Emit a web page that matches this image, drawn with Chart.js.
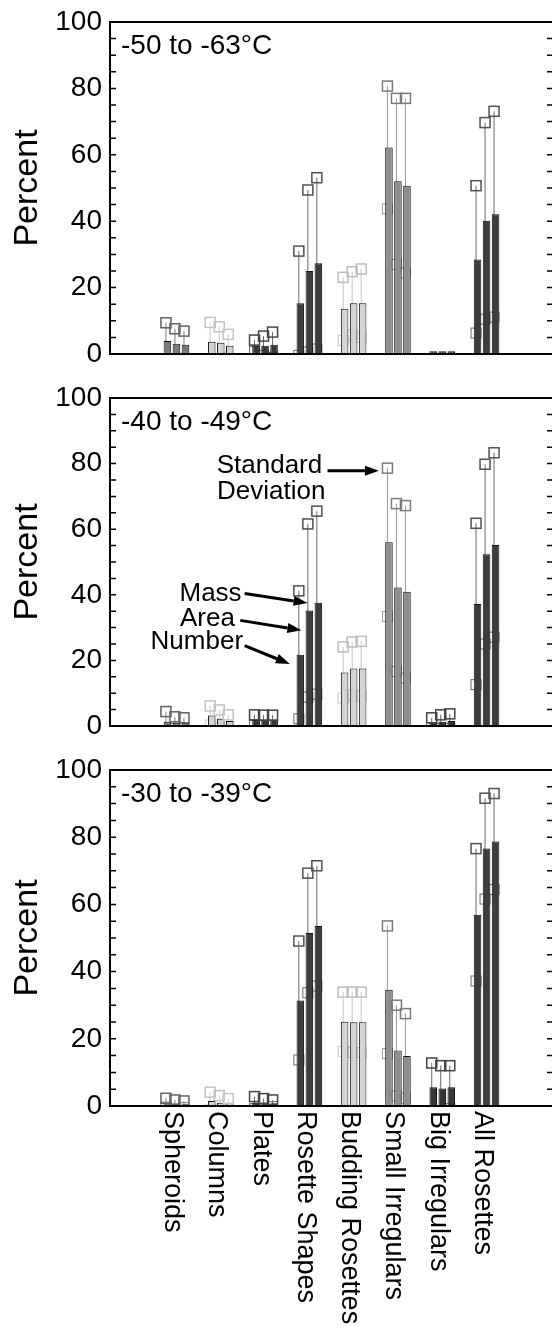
<!DOCTYPE html>
<html><head><meta charset="utf-8">
<script src="https://cdn.jsdelivr.net/npm/chart.js@4.4.1/dist/chart.umd.min.js"></script>
<style>
html,body{margin:0;padding:0;background:#fff;overflow:hidden;}
#wrap{position:relative;width:552px;height:1329px;overflow:hidden;background:#fff;}
canvas{position:absolute;left:0;}
</style></head><body>
<div id="wrap">
<canvas id="c1" width="560" height="376" style="top:0px"></canvas>
<canvas id="c2" width="560" height="372" style="top:376px"></canvas>
<canvas id="c3" width="560" height="581" style="top:748px"></canvas>
</div>
<script>
// ---------------- DATA ----------------
const categories = ['Spheroids','Columns','Plates','Rosette Shapes','Budding Rosettes','Small Irregulars','Big Irregulars','All Rosettes'];
const seriesNames = ['Number','Area','Mass'];
const panelTitles = ['-50 to -63\u00B0C','-40 to -49\u00B0C','-30 to -39\u00B0C'];
const yTicks = [0,20,40,60,80,100];
const yMinorStep = 5;

// Panel 1: -50 to -63 C (means and standard deviations, percent)
const p1Number   = [3.9, 3.7, 2.5, 15.3, 13.6, 62.2, 0.8, 28.5];
const p1Area     = [3.1, 3.4, 2.5, 25.0, 15.3, 52.0, 0.8, 40.1];
const p1Mass     = [2.8, 2.5, 2.8, 27.3, 15.3, 50.7, 0.8, 42.1];
const p1NumberSD = [5.5, 5.8, 1.7, 15.7, 9.5, 18.5, null, 22.2];
const p1AreaSD   = [4.5, 4.8, 2.9, 24.4, 9.5, 25.0, null, 29.6];
const p1MassSD   = [4.1, 3.4, 3.8, 25.8, 10.3, 26.3, null, 31.0];

// Panel 2: -40 to -49 C
const p2Number   = [1.3, 3.2, 1.8, 21.7, 16.3, 56.0, 1.0, 37.2];
const p2Area     = [1.0, 2.2, 1.8, 35.2, 17.5, 42.2, 1.3, 52.4];
const p2Mass     = [1.0, 1.5, 1.8, 37.6, 17.5, 40.9, 1.5, 55.2];
const p2NumberSD = [3.1, 2.9, 1.6, 19.5, 7.8, 22.6, 1.5, 24.6];
const p2AreaSD   = [1.8, 2.7, 1.5, 26.4, 8.1, 25.6, 2.1, 27.4];
const p2MassSD   = [1.5, 1.9, 1.5, 27.9, 8.3, 26.3, 2.2, 28.1];

// Panel 3: -30 to -39 C
const p3Number   = [1.0, 1.5, 1.0, 31.4, 25.1, 34.6, 5.6, 56.9];
const p3Area     = [0.5, 1.0, 0.8, 51.5, 24.9, 16.5, 5.2, 76.6];
const p3Mass     = [0.5, 0.8, 0.8, 53.6, 24.9, 14.9, 5.6, 78.7];
const p3NumberSD = [1.3, 2.6, 1.8, 17.7, 8.8, 19.0, 7.2, 19.7];
const p3AreaSD   = [1.3, 2.1, 1.4, 17.8, 9.0, 13.5, 6.8, 15.0];
const p3MassSD   = [1.0, 1.4, 1.0, 17.9, 9.0, 12.6, 6.4, 14.3];

// Annotations in panel 2 (data units: x = category index, y = percent)
const noteTexts  = ['Standard','Deviation','Mass','Area','Number'];
const noteX      = [2.10, 2.14, 0.77, 0.70, 0.46];
const noteY      = [79.4, 71.5, 40.4, 32.7, 25.8];
const arrowFromX = [3.41, 1.54, 1.44, 1.54];
const arrowFromY = [77.8, 40.4, 32.2, 24.5];
const arrowToX   = [4.57, 2.96, 2.82, 2.56];
const arrowToY   = [77.8, 37.5, 29.2, 18.9];

// ---------------- STYLE ----------------
const FONT = "'Liberation Sans', Arial, Helvetica, sans-serif";
const barColors  = ['#7c7c7c','#d2d2d2','#363636','#3d3d3d','#d4d4d4','#8e8e8e','#363636','#3d3d3d'];
const errColors  = ['#606060','#c4c4c4','#444444','#505050','#bdbdbd','#7a7a7a','#444444','#505050'];
const lineColors = ['#808080','#d0d0d0','#666666','#6a6a6a','#c6c6c6','#9a9a9a','#666666','#6a6a6a'];

const panels = [
  {id:'c1', means:[p1Number,p1Area,p1Mass], sds:[p1NumberSD,p1AreaSD,p1MassSD], pad:{top:21,bottom:16}},
  {id:'c2', means:[p2Number,p2Area,p2Mass], sds:[p2NumberSD,p2AreaSD,p2MassSD], pad:{top:16,bottom:17}, notes:true},
  {id:'c3', means:[p3Number,p3Area,p3Mass], sds:[p3NumberSD,p3AreaSD,p3MassSD], pad:{top:20,bottom:223}, labels:true}
];

function drawErr(chart, upperPass) {
  const {ctx, chartArea:a} = chart;
  const ys = chart.scales.y;
  ctx.save();
  ctx.beginPath(); ctx.rect(a.left, a.top, a.right - a.left, a.bottom - a.top); ctx.clip();
  chart.data.datasets.forEach((ds, d) => {
    const meta = chart.getDatasetMeta(d);
    meta.data.forEach((bar, i) => {
      const sd = ds.sd[i];
      if (sd == null) return;
      const m = ds.data[i].y;
      const x = bar.x - 1.5;
      const yHi = ys.getPixelForValue(m + sd);
      const yLo = ys.getPixelForValue(m - sd);
      const h = 5;
      if (!upperPass) {
        ctx.lineWidth = 1; ctx.strokeStyle = lineColors[i];
        ctx.beginPath(); ctx.moveTo(x, yLo); ctx.lineTo(x, yHi); ctx.stroke();
        ctx.strokeRect(x - h, yLo - h, 2 * h, 2 * h);
      } else {
        ctx.lineWidth = 1.5; ctx.strokeStyle = errColors[i];
        ctx.strokeRect(x - h, yHi - h, 2 * h, 2 * h);
      }
    });
  });
  ctx.restore();
}

function arrow(ctx, x1, y1, x2, y2) {
  const ang = Math.atan2(y2 - y1, x2 - x1);
  const L = 14, W = 5;
  const bx = x2 - L * Math.cos(ang), by = y2 - L * Math.sin(ang);
  ctx.lineWidth = 3; ctx.strokeStyle = '#000'; ctx.fillStyle = '#000';
  ctx.beginPath(); ctx.moveTo(x1, y1); ctx.lineTo(bx, by); ctx.stroke();
  ctx.beginPath();
  ctx.moveTo(x2, y2);
  ctx.lineTo(bx + W * Math.sin(ang), by - W * Math.cos(ang));
  ctx.lineTo(bx - W * Math.sin(ang), by + W * Math.cos(ang));
  ctx.closePath(); ctx.fill();
}

function decoPlugin(p, idx) {
  return {
    id: 'deco' + idx,
    beforeDatasetsDraw(chart) { drawErr(chart, false); },
    afterDatasetsDraw(chart) { drawErr(chart, true); },
    afterDraw(chart) {
      const {ctx, chartArea:a} = chart;
      const ys = chart.scales.y, xs = chart.scales.x;
      ctx.save();
      // frame
      ctx.strokeStyle = '#000'; ctx.lineWidth = 2;
      ctx.strokeRect(a.left, a.top, a.right - a.left, a.bottom - a.top);
      // inner minor ticks
      ctx.lineWidth = 1.5;
      for (let v = yMinorStep; v < yTicks[yTicks.length - 1]; v += yMinorStep) {
        const py = ys.getPixelForValue(v);
        ctx.beginPath();
        ctx.moveTo(a.left, py); ctx.lineTo(a.left + 6, py);
        ctx.moveTo(a.right, py); ctx.lineTo(a.right - 6, py);
        ctx.stroke();
      }
      // panel title
      ctx.fillStyle = '#000';
      ctx.font = '28px ' + FONT;
      ctx.textAlign = 'left'; ctx.textBaseline = 'alphabetic';
      ctx.fillText(panelTitles[idx], a.left + 11, a.top + 32);
      // y axis title
      ctx.save();
      ctx.font = '34px ' + FONT;
      ctx.translate(37, (a.top + a.bottom) / 2);
      ctx.rotate(-Math.PI / 2);
      ctx.textAlign = 'center';
      ctx.fillText('Percent', 0, 0);
      ctx.restore();
      // annotations
      if (p.notes) {
        ctx.font = '26px ' + FONT;
        ctx.textAlign = 'center'; ctx.textBaseline = 'middle';
        noteTexts.forEach((t, k) => {
          ctx.fillText(t, xs.getPixelForValue(noteX[k]), ys.getPixelForValue(noteY[k]));
        });
        arrowFromX.forEach((fx, k) => {
          arrow(ctx, xs.getPixelForValue(fx), ys.getPixelForValue(arrowFromY[k]),
                xs.getPixelForValue(arrowToX[k]), ys.getPixelForValue(arrowToY[k]));
        });
      }
      // category labels (rotated clockwise)
      if (p.labels) {
        ctx.font = '27px ' + FONT;
        ctx.textAlign = 'left'; ctx.textBaseline = 'alphabetic';
        categories.forEach((c, i) => {
          ctx.save();
          ctx.translate(xs.getPixelForValue(i), a.bottom);
          ctx.rotate(Math.PI / 2);
          ctx.fillText(c, 5, 11.5);
          ctx.restore();
        });
      }
      ctx.restore();
    }
  };
}

panels.forEach((p, idx) => {
  const datasets = seriesNames.map((name, s) => ({
    label: name,
    data: categories.map((c, i) => ({x: i, y: p.means[s][i]})),
    sd: p.sds[s],
    backgroundColor: barColors,
    borderColor: '#111',
    borderWidth: 1,
    categoryPercentage: 0.61,
    barPercentage: 0.84
  }));
  new Chart(document.getElementById(p.id), {
    type: 'bar',
    data: {datasets},
    plugins: [decoPlugin(p, idx)],
    options: {
      responsive: false,
      animation: false,
      events: [],
      devicePixelRatio: 1,
      layout: {padding: {top: p.pad.top, bottom: p.pad.bottom, left: 0, right: 7}},
      plugins: {legend: {display: false}, tooltip: {enabled: false}},
      scales: {
        x: {type: 'linear', min: -1, max: 8, display: false},
        y: {
          min: 0, max: 100,
          afterFit(scale) { scale.width = 110; },
          afterBuildTicks(scale) { scale.ticks = yTicks.map(v => ({value: v})); },
          ticks: {color: '#000', padding: 8, font: {family: FONT, size: 28, lineHeight: 1}},
          grid: {display: false, drawTicks: false},
          border: {display: false}
        }
      }
    }
  });
});
</script>
</body></html>
